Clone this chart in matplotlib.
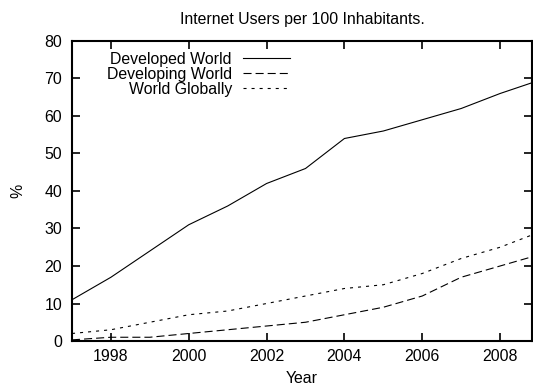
import matplotlib
matplotlib.use("Agg")
import matplotlib.pyplot as plt

plt.rcParams['font.family'] = ['Liberation Sans', 'DejaVu Sans']
plt.rcParams['lines.scale_dashes'] = False

years = [1997, 1998, 1999, 2000, 2001, 2002, 2003, 2004, 2005, 2006, 2007, 2008, 2009]
developed = [11, 17, 24, 31, 36, 42, 46, 54, 56, 59, 62, 66, 69.5]
developing = [0.3, 1, 1, 2, 3, 4, 5, 7, 9, 12, 17, 20, 23]
world = [2, 3, 5, 7, 8, 10, 12, 14, 15, 18, 22, 25, 29]

x_ticks = [1998, 2000, 2002, 2004, 2006, 2008]
y_ticks = [0, 10, 20, 30, 40, 50, 60, 70, 80]

FS = 11.4
W, H = 533, 385
fig = plt.figure(figsize=(W / 100, H / 100), dpi=100)
ax = fig.add_axes([72 / W, 1 - 341 / H, (532 - 72) / W, (341 - 41) / H])

ax.plot(years, developed, color='black', lw=0.8, label='Developed World')
ax.plot(years, developing, color='black', lw=0.8, dashes=(5.8, 2.9),
        label='Developing World')
ax.plot(years, world, color='black', lw=0.8, dashes=(2.2, 3.6),
        label='World Globally')

ax.set_xlim(1997, 2008.82)
ax.set_ylim(0, 80)
ax.set_xticks(x_ticks)
ax.set_yticks(y_ticks)
ax.tick_params(direction='in', length=6, width=1.2, top=True, right=True,
               labelsize=FS, colors='black')
ax.tick_params(axis='y', pad=7)
ax.tick_params(axis='x', pad=6)
for s in ax.spines.values():
    s.set_linewidth(1.5)

ax.set_title('Internet Users per 100 Inhabitants.', fontsize=FS, pad=12)
ax.set_xlabel('Year', fontsize=FS, labelpad=5)
ax.set_ylabel('%', fontsize=FS, labelpad=14)

leg = ax.legend(loc='upper right', bbox_to_anchor=(290 / W, 1 - 52 / H),
                bbox_transform=fig.transFigure, markerfirst=False,
                frameon=False, fontsize=FS, handlelength=2.97,
                handletextpad=0.7, labelspacing=0.0, borderpad=0,
                borderaxespad=0)
for t in leg.get_texts():
    t.set_ha('right')

fig.savefig('out.png', dpi=100)
